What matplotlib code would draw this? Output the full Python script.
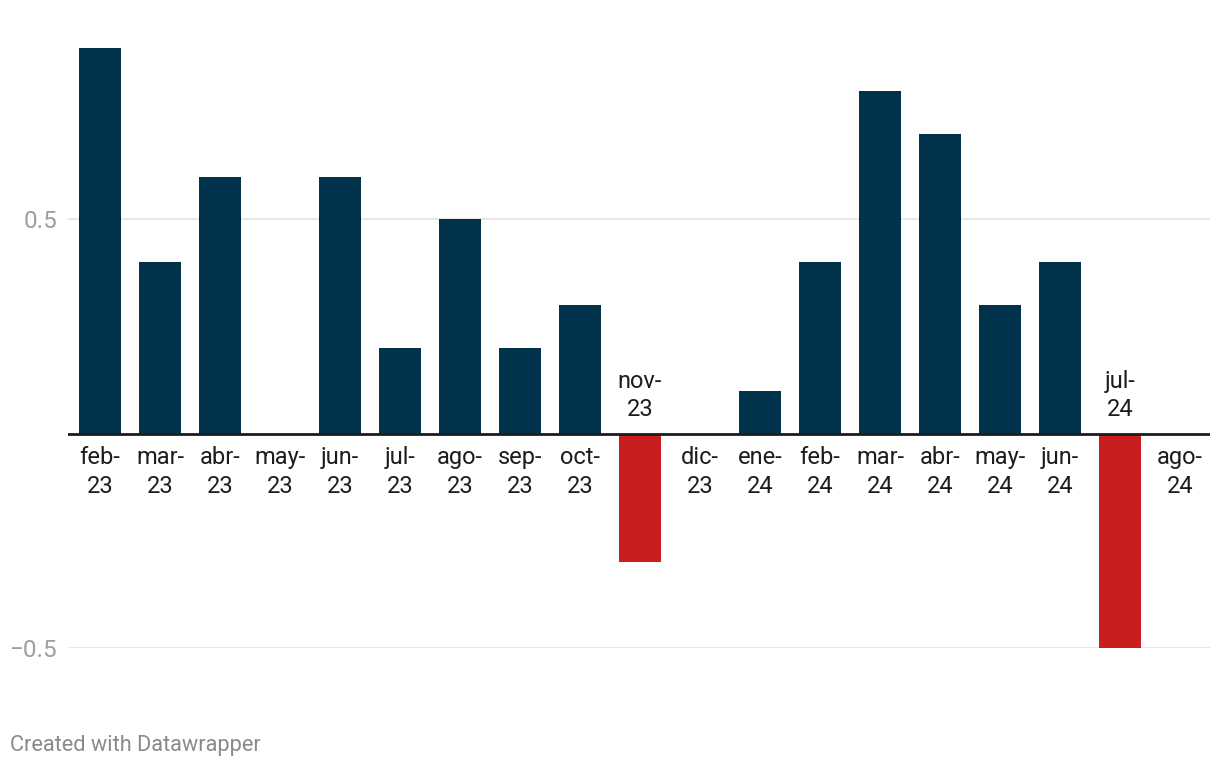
import matplotlib
matplotlib.use("Agg")
import matplotlib.pyplot as plt
from matplotlib.ticker import FixedLocator

plt.rcParams['font.family'] = ['Roboto', 'DejaVu Sans']

months = ["feb-\n23", "mar-\n23", "abr-\n23", "may-\n23", "jun-\n23", "jul-\n23",
          "ago-\n23", "sep-\n23", "oct-\n23", "nov-\n23", "dic-\n23", "ene-\n24",
          "feb-\n24", "mar-\n24", "abr-\n24", "may-\n24", "jun-\n24", "jul-\n24",
          "ago-\n24"]
values = [0.9, 0.4, 0.6, 0.0, 0.6, 0.2, 0.5, 0.2, 0.3, -0.3, 0.0, 0.1,
          0.4, 0.8, 0.7, 0.3, 0.4, -0.5, 0.0]
yticks = [-0.5, 0.5]
ytick_labels = ["\u22120.5", "0.5"]

POS = "#01324b"
NEG = "#c91d1f"

W, H = 1220, 768
fig = plt.figure(figsize=(W / 100, H / 100), dpi=100)
left, right, top, bottom = 68, 1210, 48, 648
ax = fig.add_axes([left / W, 1 - bottom / H, (right - left) / W, (bottom - top) / H])

x = list(range(len(values)))
colors = [NEG if v < 0 else POS for v in values]
ax.bar(x, values, width=0.7, color=colors, zorder=2)

ax.set_xlim(-32 / 60, 18.5)
ax.set_ylim(-0.5, 0.9)

for val in yticks:
    ax.axhline(val, color="#e3e3e3", lw=1.2, zorder=1)
ax.axhline(0, color="#1d1d1d", lw=2, zorder=3)

ax.yaxis.set_major_locator(FixedLocator(yticks))
ax.set_yticklabels(ytick_labels)
ax.tick_params(axis='y', length=0, pad=8, labelsize=17.5, labelcolor="#9e9e9e")
ax.set_xticks([])
for s in ax.spines.values():
    s.set_visible(False)

for xi, v, lab in zip(x, values, months):
    if v < 0:
        ax.annotate(lab, (xi, 0), xytext=(0, 9), textcoords="offset points",
                    ha="center", va="bottom", fontsize=17, color="#1d1d1d",
                    linespacing=1.3)
    else:
        ax.annotate(lab, (xi, 0), xytext=(0, -9), textcoords="offset points",
                    ha="center", va="top", fontsize=17, color="#1d1d1d",
                    linespacing=1.3)

fig.text(10 / W, 1 - 745 / H, "Created with Datawrapper", fontsize=15.7,
         color="#8a8a8a", ha="left", va="center")

fig.savefig("out.png", dpi=100)
